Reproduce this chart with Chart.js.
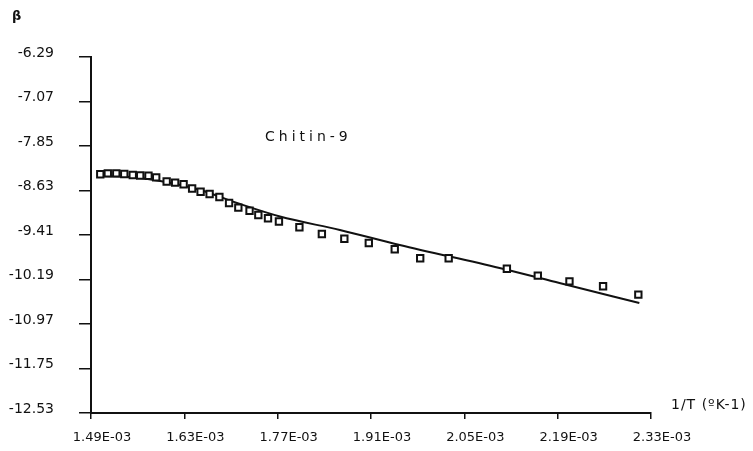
<!DOCTYPE html>
<html>
<head>
<meta charset="utf-8">
<script src="https://cdn.jsdelivr.net/npm/chart.js@4"></script>
<style>
  body { margin: 0; background: #fff; }
</style>
</head>
<body>
<canvas id="myChart" width="753" height="451"></canvas>
<script>
// measured points, 1/T in K^-1 and beta
const xPts = [1.5039e-3, 1.5152e-3, 1.5279e-3, 1.5399e-3, 1.5526e-3, 1.5638e-3, 1.5762e-3, 1.5878e-3,
  1.6035e-3, 1.6162e-3, 1.6289e-3, 1.6417e-3, 1.6544e-3, 1.6679e-3, 1.6826e-3, 1.6971e-3,
  1.7110e-3, 1.7278e-3, 1.7410e-3, 1.7555e-3, 1.7719e-3, 1.8026e-3, 1.8363e-3, 1.8700e-3,
  1.9067e-3, 1.9456e-3, 1.9838e-3, 2.0265e-3, 2.1138e-3, 2.1602e-3, 2.2077e-3, 2.2581e-3, 2.3110e-3];
const yPts = [-8.346, -8.329, -8.329, -8.341, -8.358, -8.367, -8.371, -8.399,
  -8.472, -8.493, -8.521, -8.595, -8.651, -8.691, -8.744, -8.849,
  -8.931, -8.984, -9.059, -9.117, -9.173, -9.275, -9.393, -9.475,
  -9.550, -9.659, -9.818, -9.817, -10.001, -10.123, -10.222, -10.309, -10.456];

// fitted curve
const xFit = [1.4994e-3, 1.5488e-3, 1.5938e-3, 1.6537e-3, 1.7135e-3, 1.7734e-3, 1.8633e-3, 1.9531e-3, 2.1028e-3, 2.1927e-3, 2.3125e-3];
const yFit = [-8.376, -8.393, -8.464, -8.621, -8.867, -9.086, -9.322, -9.585, -9.988, -10.251, -10.602];

const xTicks = [1.49e-3, 1.63e-3, 1.77e-3, 1.91e-3, 2.05e-3, 2.19e-3, 2.33e-3];
const xTickLabels = ['1.49E-03', '1.63E-03', '1.77E-03', '1.91E-03', '2.05E-03', '2.19E-03', '2.33E-03'];
const yTicks = [-12.53, -11.75, -10.97, -10.19, -9.41, -8.63, -7.85, -7.07, -6.29];
const yTickLabels = ['-12.53', '-11.75', '-10.97', '-10.19', '-9.41', '-8.63', '-7.85', '-7.07', '-6.29'];

const ink = '#111';
Chart.defaults.font.family = 'DejaVu Sans';
Chart.defaults.color = ink;

// y tick labels, axis title, curve label
const extraText = {
  id: 'extraText',
  afterDraw(chart) {
    const ctx = chart.ctx;
    const yScale = chart.scales.y;
    ctx.save();
    ctx.fillStyle = ink;
    ctx.textBaseline = 'middle';

    ctx.font = '14px DejaVu Sans';
    ctx.textAlign = 'right';
    yTicks.forEach((v, i) => {
      ctx.fillText(yTickLabels[i], 54, yScale.getPixelForValue(v) - 4);
    });

    ctx.textAlign = 'left';
    ctx.font = '14px DejaVu Sans';
    ctx.letterSpacing = '1px';
    ctx.fillText('1/T (ºK-1)', 671, 405);

    ctx.letterSpacing = '4px';
    ctx.fillText('Chitin-9', 265, 137);

    ctx.font = 'bold 13px DejaVu Sans';
    ctx.letterSpacing = '0px';
    ctx.fillText('β', 12, 17);
    ctx.restore();
  }
};

new Chart(document.getElementById('myChart'), {
  type: 'scatter',
  data: {
    datasets: [{
      label: 'Chitin-9',
      data: xPts.map((x, i) => ({ x: x, y: yPts[i] })),
      pointStyle: 'rect',
      pointRadius: 4.5,
      pointBorderWidth: 2,
      pointBackgroundColor: '#fff',
      pointBorderColor: ink,
      showLine: false,
      order: 1
    }, {
      label: 'fit',
      data: xFit.map((x, i) => ({ x: x, y: yFit[i] })),
      showLine: true,
      borderColor: ink,
      borderWidth: 2,
      pointRadius: 0,
      cubicInterpolationMode: 'monotone',
      order: 2
    }]
  },
  options: {
    responsive: false,
    animation: false,
    layout: { padding: { top: 57, right: 102, left: 0, bottom: 0 } },
    plugins: { legend: { display: false }, tooltip: { enabled: false } },
    scales: {
      x: {
        type: 'linear',
        min: 1.49e-3,
        max: 2.33e-3,
        afterBuildTicks: (scale) => { scale.ticks = xTicks.map(v => ({ value: v })); },
        afterFit: (scale) => { scale.height = 38; },
        border: { display: true, color: ink, width: 2 },
        grid: { display: true, drawOnChartArea: false, drawTicks: true, tickLength: 6, color: ink, lineWidth: 1.5 },
        ticks: {
          font: { size: 13 },
          padding: 11,
          labelOffset: 11,
          maxRotation: 0,
          autoSkip: false,
          callback: (v, i) => xTickLabels[i]
        }
      },
      y: {
        type: 'linear',
        min: -12.53,
        max: -6.29,
        afterBuildTicks: (scale) => { scale.ticks = yTicks.map(v => ({ value: v })); },
        afterFit: (scale) => { scale.width = 91; },
        border: { display: true, color: ink, width: 2 },
        grid: { display: true, drawOnChartArea: false, drawTicks: true, tickLength: 12, color: ink, lineWidth: 1.5 },
        ticks: { display: false }
      }
    }
  },
  plugins: [extraText]
});
</script>
</body>
</html>
